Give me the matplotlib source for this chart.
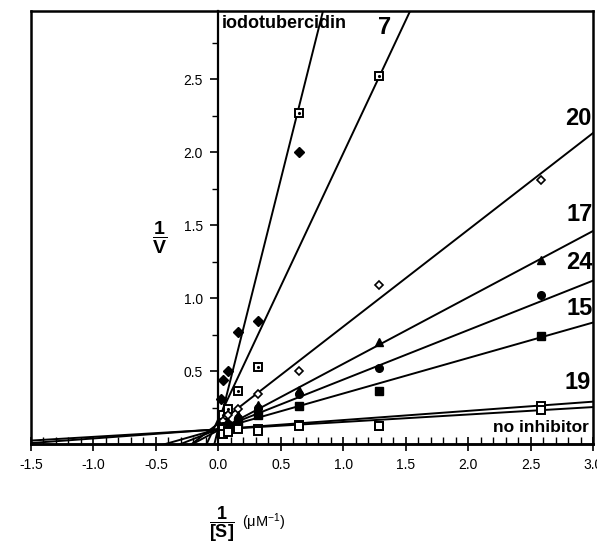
"""
Lineweaver-Burk plot: 1/V vs 1/[S] for iodotubercidin and analogues.
"""
import numpy as np
import matplotlib
matplotlib.use("Agg")
import matplotlib.pyplot as plt
from matplotlib.ticker import MultipleLocator

plt.rcParams["axes.unicode_minus"] = False
plt.rcParams["font.family"] = ["Liberation Sans Narrow", "Liberation Sans", "DejaVu Sans"]
plt.rcParams["mathtext.fontset"] = "custom"
plt.rcParams["mathtext.rm"] = "Liberation Sans"
plt.rcParams["mathtext.bf"] = "Liberation Sans:bold"

# measured points (1/[S] in uM^-1, 1/V)
iodo_x = [0.02, 0.04, 0.08, 0.16, 0.32, 0.645]
iodo_y = [0.31, 0.44, 0.50, 0.77, 0.84, 2.00]
c7_x = [0.04, 0.08, 0.16, 0.32, 0.645, 1.29]
c7_y = [0.20, 0.24, 0.36, 0.53, 2.27, 2.52]
c20_x = [0.04, 0.08, 0.16, 0.32, 0.645, 1.29, 2.58]
c20_y = [0.16, 0.20, 0.24, 0.34, 0.50, 1.09, 1.81]
c17_x = [0.04, 0.08, 0.16, 0.32, 0.645, 1.29, 2.58]
c17_y = [0.12, 0.15, 0.20, 0.27, 0.37, 0.70, 1.26]
c24_x = [0.04, 0.08, 0.16, 0.32, 0.645, 1.29, 2.58]
c24_y = [0.12, 0.14, 0.18, 0.25, 0.34, 0.52, 1.02]
c15_x = [0.04, 0.08, 0.16, 0.32, 0.645, 1.29, 2.58]
c15_y = [0.10, 0.12, 0.15, 0.20, 0.26, 0.36, 0.74]
c19_x = [0.04, 0.08, 0.16, 0.32, 0.645, 1.29, 2.58]
c19_y = [0.10, 0.09, 0.11, 0.10, 0.13, 0.12, 0.26]
noinh_x = [0.04, 0.08, 0.16, 0.32, 0.645, 1.29, 2.58]
noinh_y = [0.07, 0.08, 0.10, 0.09, 0.12, 0.12, 0.23]

# fitted lines: slope, intercept
fit_slopes = [3.41, 1.82, 0.663, 0.455, 0.339, 0.243, 0.063, 0.051]
fit_intercepts = [0.108, 0.171, 0.141, 0.094, 0.102, 0.103, 0.101, 0.100]

line_labels = ["7", "20", "17", "24", "15", "19"]
line_label_x = [1.33, 2.88, 2.89, 2.89, 2.89, 2.88]
line_label_y = [2.85, 2.23, 1.57, 1.24, 0.93, 0.42]

xtick_vals = [-1.5, -1.0, -0.5, 0.0, 0.5, 1.0, 1.5, 2.0, 2.5, 3.0]
ytick_vals = [0.5, 1.0, 1.5, 2.0, 2.5]

XMIN, XMAX, YMIN, YMAX = -1.5, 3.0, 0.0, 2.966

fig = plt.figure(figsize=(5.97, 5.49), dpi=100)
pos = [31 / 597, 1 - 444 / 549, 562 / 597, 433 / 549]
ax = fig.add_axes(pos)

xs = np.linspace(XMIN, XMAX, 200)
for m, b in zip(fit_slopes, fit_intercepts):
    ax.plot(xs, m * xs + b, color="black", lw=1.4, zorder=2)

ms = 5.5
ax.plot(iodo_x, iodo_y, "D", color="black", ms=ms, zorder=3)
ax.plot(c7_x, c7_y, "s", mfc="white", mec="black", mew=1.4, ms=ms, zorder=3)
ax.plot(c7_x, c7_y, ".", color="black", ms=2.5, zorder=4)
ax.plot(c20_x, c20_y, "D", mfc="white", mec="black", mew=1.2, ms=4.5, zorder=3)
ax.plot(c17_x, c17_y, "^", color="black", ms=ms, zorder=3)
ax.plot(c24_x, c24_y, "o", color="black", ms=ms, zorder=3)
ax.plot(c15_x, c15_y, "s", color="black", ms=ms, zorder=3)
ax.plot(c19_x, c19_y, "s", mfc="white", mec="black", mew=1.4, ms=ms, zorder=3)
ax.plot(noinh_x, noinh_y, "s", mfc="white", mec="black", mew=1.4, ms=ms, zorder=3)

ax.set_xlim(XMIN, XMAX)
ax.set_ylim(YMIN, YMAX)

# y axis sits at x = 0, frame drawn by an overlay axes
for side in ["top", "right"]:
    ax.spines[side].set_visible(False)
ax.spines["left"].set_position(("data", 0))
ax.spines["left"].set_linewidth(1.6)
ax.spines["bottom"].set_linewidth(1.8)

ax.xaxis.set_minor_locator(MultipleLocator(0.1))
ax.yaxis.set_minor_locator(MultipleLocator(0.25))
ax.set_xticks(xtick_vals)
ax.set_xticklabels([f"{v:.1f}" for v in xtick_vals])
ax.set_yticks(ytick_vals)
ax.set_yticklabels([f"{v:.1f}" for v in ytick_vals])

ax.tick_params(axis="x", which="major", direction="inout", length=10, width=1.2,
               labelsize=10, pad=5)
ax.tick_params(axis="x", which="minor", direction="in", length=5, width=1.0)
ax.tick_params(axis="y", which="major", direction="out", length=6, width=1.2,
               labelsize=10, pad=5)
ax.tick_params(axis="y", which="minor", direction="out", length=4, width=1.0)

frame = fig.add_axes(pos, facecolor="none")
frame.set_xticks([])
frame.set_yticks([])
for s in frame.spines.values():
    s.set_linewidth(1.8)

# labels
ax.text(0.03, 2.94, "iodotubercidin", fontsize=13, fontweight="bold",
        ha="left", va="top", zorder=5)
for lab, lx, ly in zip(line_labels, line_label_x, line_label_y):
    ax.text(lx, ly, lab, fontsize=17, fontweight="bold", ha="center", va="center")
ax.text(2.97, 0.11, "no inhibitor", fontsize=12.5, fontweight="bold",
        ha="right", va="center")

fig.text(160 / 597, 1 - 238 / 549, r"$\dfrac{\mathbf{1}}{\mathbf{V}}$", fontsize=14,
         ha="center", va="center")
fig.text(222 / 597, 1 - 524 / 549, r"$\dfrac{\mathbf{1}}{\mathbf{[S]}}$", fontsize=13,
         ha="center", va="center")
fig.text(242 / 597, 1 - 522 / 549, r"($\mathregular{\mu M^{-1}}$)", fontsize=10.5,
         ha="left", va="center")

fig.savefig("out.png", dpi=100)
